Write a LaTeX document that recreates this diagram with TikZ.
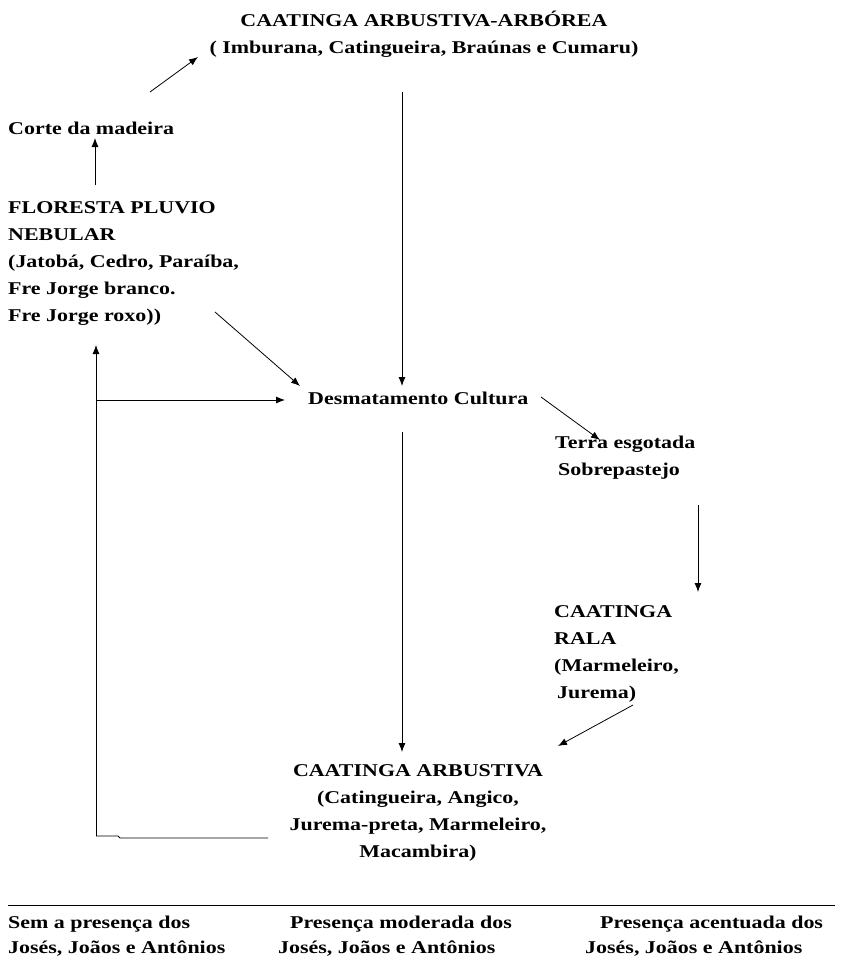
\documentclass[tikz,border=0pt]{standalone}
\usepackage{fontspec}
\setmainfont[FakeStretch=1.22]{Liberation Serif}
\usetikzlibrary{arrows.meta}
\tikzset{
    txt/.style={
            font=\bfseries\fontsize{18}{27}\selectfont,
            inner sep=0pt, % no padding
            align=left
        },
    txtc/.style={
            txt,
            align=center
        },
    foot/.style={
            txt,
            font=\bfseries\fontsize{18}{25}\selectfont
        },
    flow/.style={
            line width=0.8pt,
            -{Latex[length=9pt,width=7pt]}
        },
    bare/.style={
            line width=0.8pt
        }
}

\begin{document}
\begin{tikzpicture}[x=1pt,y=-1pt]
    \useasboundingbox (0,0) rectangle (842,961);
    % text blocks
    \node[txtc, anchor=north] (arbo) at (424,11)
    {CAATINGA ARBUSTIVA-ARBÓREA\\( Imburana, Catingueira, Braúnas e Cumaru)};
    \node[txt, anchor=north west] (corte) at (8,122) {Corte da madeira};
    \node[txt, anchor=north west] (flor) at (8,201)
    {FLORESTA PLUVIO\\NEBULAR\\(Jatobá, Cedro, Paraíba,\\Fre Jorge branco.\\Fre Jorge roxo))};
    \node[txt, anchor=west] (desm) at (308,398) {Desmatamento Cultura};
    \node[txt, anchor=north west] (terra) at (555,436)
    {Terra esgotada\\\hspace*{3pt}Sobrepastejo};
    \node[txt, anchor=north west] (rala) at (554,605)
    {CAATINGA\\RALA\\(Marmeleiro,\\\hspace*{3pt}Jurema)};
    \node[txtc, anchor=north] (arbu) at (418,764)
    {CAATINGA ARBUSTIVA\\(Catingueira, Angico,\\Jurema-preta, Marmeleiro,\\Macambira)};
    \node[foot, anchor=north west] (sem) at (8,916)
    {Sem a presença dos\\Josés, Joãos e Antônios};
    \node[foot, anchor=north west] (mod) at (278,916)
    {\hspace*{12pt}Presença moderada dos\\Josés, Joãos e Antônios};
    \node[foot, anchor=north west] (acen) at (585,916)
    {\hspace*{15pt}Presença acentuada dos\\Josés, Joãos e Antônios};
    % loose ends
    \coordinate (corteA) at (150,92);
    \coordinate (arboA) at (198,57);
    \coordinate (florT) at (95,185);
    \coordinate (corteB) at (95,138);
    \coordinate (arboB) at (402,92);
    \coordinate (desmT) at (402,386);
    \coordinate (florB) at (215,312);
    \coordinate (desmL) at (300,386);
    \coordinate (loopB) at (96,836);
    \coordinate (loopT) at (96,345);
    \coordinate (loopM) at (96,400);
    \coordinate (desmW) at (285,400);
    \coordinate (arbuW) at (268,838);
    \coordinate (desmB) at (402,432);
    \coordinate (arbuT) at (402,752);
    \coordinate (desmE) at (541,397);
    \coordinate (terraT) at (600,440);
    \coordinate (terraB) at (698,505);
    \coordinate (ralaT) at (698,592);
    \coordinate (ralaB) at (633,705);
    \coordinate (arbuE) at (558,746);
    % arrows
    \draw[flow] (corteA) -- (arboA);
    \draw[flow] (florT) -- (corteB);
    \draw[flow] (arboB) -- (desmT);
    \draw[flow] (florB) -- (desmL);
    \draw[flow] (loopB) -- (loopT);
    \draw[flow] (loopM) -- (desmW);
    \draw[bare] (loopB) -- (118,836) -- (120,838) -- (arbuW);
    \draw[flow] (desmB) -- (arbuT);
    \draw[flow] (desmE) -- (terraT);
    \draw[flow] (terraB) -- (ralaT);
    \draw[flow] (ralaB) -- (arbuE);
    % bottom rule
    \draw[bare] (8,905) -- (835,905);
\end{tikzpicture}
\end{document}
